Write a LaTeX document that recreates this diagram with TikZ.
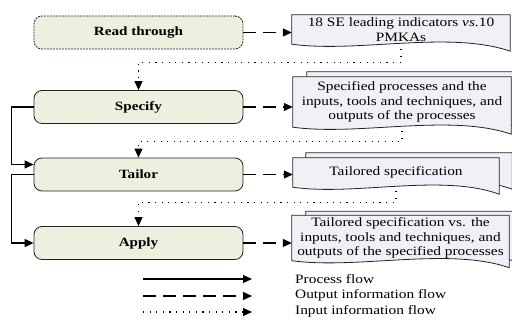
\documentclass[tikz,border=0pt]{standalone}
\usepackage{fontspec}
\setmainfont{Liberation Serif}[FakeStretch=1.2]
\usetikzlibrary{arrows.meta,calc,backgrounds}
\definecolor{boxfill}{RGB}{236,240,222}
\definecolor{docfill}{RGB}{241,240,246}
\definecolor{edge}{RGB}{35,35,35}
\tikzset{
  base/.style={font=\fontsize{12.8}{14.7}\selectfont},
  stepbox/.style={base, draw=edge, line width=0.8pt, fill=boxfill, rounded corners=8pt,
    minimum width=209pt, minimum height=33pt, font=\fontsize{12.6}{14.7}\selectfont\bfseries},
  docnode/.style={base, draw=none, inner sep=0pt, align=center},
  docshape/.style={draw=edge, line width=0.8pt, fill=docfill},
  tip/.style={-{Triangle[length=9pt,width=8pt]}},
  procflow/.style={tip, line width=1.1pt, draw=black},
  outflow/.style={tip, line width=1.1pt, draw=black, dash pattern=on 13pt off 7pt},
  inflow/.style={tip, line width=1.1pt, draw=black, dash pattern=on 1.1pt off 5.5pt},
  legtext/.style={base, anchor=west, inner sep=0pt}
}
\newcommand\drawdoc[3]{%
  \path[docshape] ($(#1.north west)+(#2,#3)$) -- ($(#1.north east)+(#2,#3)$)
    -- ($(#1.south east)+(#2,#3+7)$)
    .. controls ($(#1.south west)!0.72!(#1.south east)+(#2,#3-14)$)
    and ($(#1.south west)!0.3!(#1.south east)+(#2,#3+9)$)
    .. ($(#1.south west)+(#2,#3)$) -- cycle;}
\begin{document}
\begin{tikzpicture}[x=1pt,y=-1pt]
\useasboundingbox (0,0) rectangle (512,320);
% process boxes
\node[stepbox, dash pattern=on 2pt off 1pt] (rt) at (138.5,32.5) {Read through};
\node[stepbox] (spec) at (138.5,107) {Specify};
\node[stepbox] (tail) at (138.5,174.5) {Tailor};
\node[stepbox] (app) at (138.5,243) {Apply};
% documents
\node[docnode, minimum width=218pt, minimum height=29pt] (d1) at (401,29.5)
  {18 SE leading indicators \textit{vs.}10\\PMKAs};
\node[docnode, minimum width=218pt, minimum height=50pt] (d2) at (402,102)
  {Specified processes and the\\inputs, tools and techniques, and\\outputs of the processes};
\node[docnode, minimum width=206pt, minimum height=29pt] (d3) at (396,172.5)
  {Tailored specification};
\node[docnode, minimum width=217pt, minimum height=45pt] (d4) at (400.5,238)
  {Tailored specification vs. the\\inputs, tools and techniques, and\\outputs of the specified processes};
\begin{scope}[on background layer]
  \drawdoc{d1}{0}{0}
  \drawdoc{d2}{14}{-5}
  \drawdoc{d2}{0}{0}
  \drawdoc{d3}{13}{-5}
  \drawdoc{d3}{0}{0}
  \drawdoc{d4}{14}{-4}
  \drawdoc{d4}{0}{0}
\end{scope}
% output flows
\draw[outflow] (rt.east) -- (d1.west |- rt.east);
\draw[outflow] (spec.east) -- (d2.west |- spec.east);
\draw[outflow] (tail.east) -- (d3.west |- tail.east);
\draw[outflow] (app.east) -- (d4.west |- app.east);
% input flows
\draw[inflow] ($(d1.south)+(0,5)$) |- ($(spec.north)+(0,-28)$) -- (spec.north);
\draw[inflow] ($(d2.south)+(0,4)$) |- ($(tail.north)+(0,-16)$) -- (tail.north);
\draw[inflow] ($(d3.south)+(0,4)$) |- ($(app.north)+(0,-24)$) -- (app.north);
% process flows
\draw[procflow] (spec.west) -- ++(-22,0) |- ($(tail.west)+(0,-10)$);
\draw[procflow] (tail.west) -- ++(-22,0) |- (app.west);
% legend
\node[legtext] (l1) at (295,279) {Process flow};
\node[legtext] (l2) at (295,295) {Output information flow};
\node[legtext] (l3) at (295,311) {Input information flow};
\coordinate (a1) at (143,279);
\coordinate (b1) at (252,279);
\coordinate (a2) at (143,296);
\coordinate (b2) at (252,296);
\coordinate (a3) at (143,312);
\coordinate (b3) at (252,312);
\draw[procflow] (a1) -- (b1);
\draw[outflow] (a2) -- (b2);
\draw[inflow] (a3) -- (b3);
\end{tikzpicture}
\end{document}
